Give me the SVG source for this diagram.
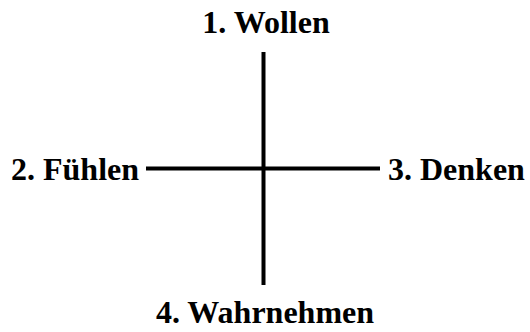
<svg xmlns="http://www.w3.org/2000/svg" width="530" height="332" viewBox="0 0 530 332">
<style>
text{font-family:"Liberation Serif","Times New Roman",serif;font-weight:bold;font-size:32px;fill:#000}
.ax{stroke:#000;stroke-width:4;fill:none}
</style>
<rect width="530" height="332" fill="#fff"/>
<g id="connectors">
<line class="ax" x1="263.5" y1="52" x2="263.5" y2="285"/>
<line class="ax" x1="146" y1="168.5" x2="380" y2="168.5"/>
</g>
<g id="n1"><text x="266" y="33" text-anchor="middle">1. Wollen</text></g>
<g id="n2"><text x="11" y="180">2. Fühlen</text></g>
<g id="n3"><text x="388" y="180">3. Denken</text></g>
<g id="n4"><text x="265" y="323" text-anchor="middle">4. Wahrnehmen</text></g>
</svg>
